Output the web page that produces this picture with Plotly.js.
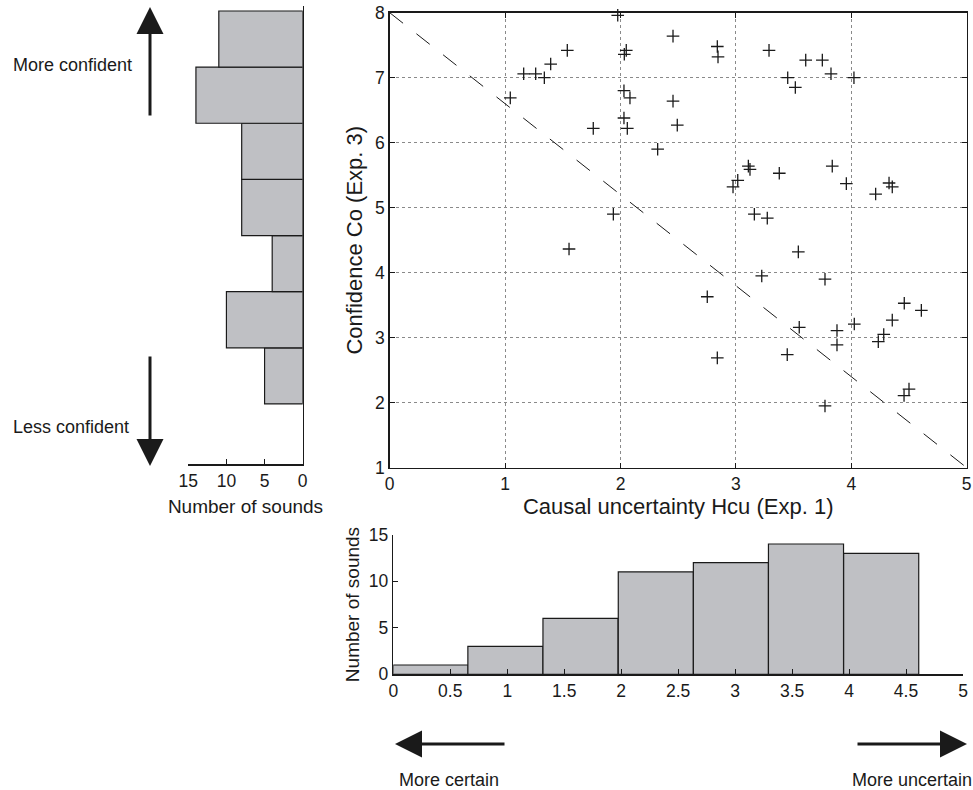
<!DOCTYPE html>
<html>
<head>
<meta charset="utf-8">
<script src="https://cdn.plot.ly/plotly-3.0.1.min.js"></script>
<style>html,body{margin:0;padding:0;background:#fff;}#chart{width:973px;height:790px;}</style>
</head>
<body>
<div id="chart"></div>
<script>
// Scatter: causal uncertainty (Exp. 1) vs confidence (Exp. 3)
const hcuValues = [1.976, 2.455, 1.539, 2.05, 2.033, 1.395, 1.161, 1.265, 1.34, 1.045,
  2.03, 2.082, 2.455, 2.03, 2.059, 1.764, 2.492, 2.322, 1.938, 2.839,
  2.845, 3.287, 3.605, 3.749, 3.824, 3.449, 3.515, 4.023, 3.108, 3.122,
  3.376, 3.016, 2.975, 3.835, 3.957, 4.211, 4.327, 4.355, 3.160, 3.272,
  1.554, 3.541, 3.224, 3.772, 2.752, 4.459, 4.607, 4.355, 4.026, 3.549,
  3.876, 4.281, 4.234, 3.876, 3.445, 2.839, 4.50, 4.457, 3.772];
const confValues = [7.96, 7.64, 7.42, 7.42, 7.36, 7.21, 7.06, 7.06, 7.0, 6.69,
  6.80, 6.69, 6.64, 6.38, 6.22, 6.22, 6.27, 5.90, 4.90, 7.48,
  7.32, 7.42, 7.27, 7.27, 7.06, 7.0, 6.85, 7.0, 5.64, 5.59,
  5.53, 5.42, 5.32, 5.64, 5.37, 5.21, 5.38, 5.32, 4.90, 4.84,
  4.365, 4.32, 3.95, 3.90, 3.63, 3.53, 3.42, 3.27, 3.21, 3.16,
  3.11, 3.05, 2.94, 2.89, 2.74, 2.69, 2.21, 2.11, 1.95];

// Diagonal reference line
const diagX = [0, 5];
const diagY = [8, 1];

// Left histogram: confidence bins (centres) and counts
const confBinCenters = [2.412, 3.276, 4.139, 5.003, 5.867, 6.731, 7.594];
const confBinWidth = 0.8637;
const confCounts = [5, 10, 4, 8, 8, 14, 11];

// Bottom histogram: causal uncertainty bins (centres) and counts
const hcuBinCenters = [0.328, 0.984, 1.643, 2.304, 2.963, 3.622, 4.282];
const hcuBinWidth = 0.659;
const hcuCounts = [1, 3, 6, 11, 12, 14, 13];

// Tick labels
const mainXTicks = [0, 1, 2, 3, 4, 5];
const mainYTicks = [1, 2, 3, 4, 5, 6, 7, 8];
const leftHistTicks = [0, 5, 10, 15];
const bottomXTicks = [0, 0.5, 1, 1.5, 2, 2.5, 3, 3.5, 4, 4.5, 5];
const bottomYTicks = [0, 5, 10, 15];

const FONT = 'Liberation Sans, Arial, Helvetica, sans-serif';
const INK = '#1a1a1a';
const BARFILL = '#bfc0c4';

const traces = [
  {
    type: 'scatter', mode: 'lines', x: diagX, y: diagY,
    line: {color: INK, width: 1, dash: '17px,17px'},
    xaxis: 'x', yaxis: 'y', hoverinfo: 'skip', showlegend: false
  },
  {
    type: 'scatter', mode: 'markers', x: hcuValues, y: confValues,
    marker: {symbol: 'cross-thin-open', size: 9, line: {color: INK, width: 1.3}, color: INK},
    xaxis: 'x', yaxis: 'y', showlegend: false, cliponaxis: false
  },
  {
    type: 'bar', orientation: 'h', x: confCounts, y: confBinCenters, width: confBinWidth,
    marker: {color: BARFILL, line: {color: INK, width: 1.2}},
    xaxis: 'x2', yaxis: 'y2', showlegend: false
  },
  {
    type: 'bar', x: hcuBinCenters, y: hcuCounts, width: hcuBinWidth,
    marker: {color: BARFILL, line: {color: INK, width: 1.2}},
    xaxis: 'x3', yaxis: 'y3', showlegend: false
  }
];

const W = 973, H = 790;
const px = v => v / W;
const py = v => 1 - v / H;

const tickFont = {family: FONT, size: 17.5, color: INK};
const commonAxis = {
  showline: true, linecolor: INK, linewidth: 1.5, ticks: 'inside', ticklen: 5,
  tickcolor: INK, tickwidth: 1, zeroline: false, tickfont: tickFont, fixedrange: true
};

const layout = {
  width: W, height: H,
  margin: {l: 0, r: 0, t: 0, b: 0},
  paper_bgcolor: '#ffffff', plot_bgcolor: 'rgba(0,0,0,0)',
  font: {family: FONT, color: INK},
  showlegend: false,
  bargap: 0,
  xaxis: Object.assign({}, commonAxis, {
    domain: [px(389.7), px(966.7)], range: [0, 5], anchor: 'y',
    tickvals: mainXTicks, mirror: 'allticks',
    showgrid: true, gridcolor: '#8a8a8a', griddash: 'dot', gridwidth: 1,
    title: {text: 'Causal uncertainty Hcu (Exp. 1)', font: {family: FONT, size: 22, color: INK}, standoff: 4}
  }),
  yaxis: Object.assign({}, commonAxis, {
    domain: [py(467.7), py(12.7)], range: [1, 8], anchor: 'x',
    tickvals: mainYTicks, mirror: 'allticks',
    showgrid: true, gridcolor: '#8a8a8a', griddash: 'dot', gridwidth: 1,
    title: {text: 'Confidence Co (Exp. 3)', font: {family: FONT, size: 22, color: INK}, standoff: 6}
  }),
  xaxis2: Object.assign({}, commonAxis, {
    domain: [px(188.3), px(302.7)], range: [15, 0], anchor: 'y2',
    tickvals: leftHistTicks, showgrid: false,
    tickfont: {family: FONT, size: 17.5, color: INK},
    title: {text: 'Number of sounds', font: {family: FONT, size: 19, color: INK}, standoff: 10}
  }),
  yaxis2: Object.assign({}, commonAxis, {
    domain: [py(464.3), py(6)], range: [1.052, 8.103], anchor: 'x2', side: 'right',
    showticklabels: false, ticks: '', showgrid: false
  }),
  xaxis3: Object.assign({}, commonAxis, {
    domain: [px(393.3), px(963)], range: [0, 5], anchor: 'y3',
    tickvals: bottomXTicks, ticktext: bottomXTicks.map(String), showgrid: false
  }),
  yaxis3: Object.assign({}, commonAxis, {
    domain: [py(674.3), py(534.7)], range: [0, 15], anchor: 'x3',
    tickvals: bottomYTicks, showgrid: false,
    title: {text: 'Number of sounds', font: {family: FONT, size: 19, color: INK}, standoff: 4}
  }),
  annotations: [
    {xref: 'paper', yref: 'paper', x: px(150), y: py(7), ax: 0, ay: 110, text: '',
     showarrow: true, arrowhead: 2, arrowsize: 1.8, arrowwidth: 3, arrowcolor: INK},
    {xref: 'paper', yref: 'paper', x: px(150), y: py(466), ax: 0, ay: -111, text: '',
     showarrow: true, arrowhead: 2, arrowsize: 1.8, arrowwidth: 3, arrowcolor: INK},
    {xref: 'paper', yref: 'paper', x: px(395), y: py(744), ax: 111, ay: 0, text: '',
     showarrow: true, arrowhead: 2, arrowsize: 1.8, arrowwidth: 3, arrowcolor: INK},
    {xref: 'paper', yref: 'paper', x: px(967), y: py(744), ax: -111, ay: 0, text: '',
     showarrow: true, arrowhead: 2, arrowsize: 1.8, arrowwidth: 3, arrowcolor: INK},
    {xref: 'paper', yref: 'paper', x: px(72.5), y: py(65), text: 'More confident', showarrow: false,
     font: {family: FONT, size: 18, color: INK}, xanchor: 'center', yanchor: 'middle'},
    {xref: 'paper', yref: 'paper', x: px(70.5), y: py(427), text: 'Less confident', showarrow: false,
     font: {family: FONT, size: 18, color: INK}, xanchor: 'center', yanchor: 'middle'},
    {xref: 'paper', yref: 'paper', x: px(449), y: py(780), text: 'More certain', showarrow: false,
     font: {family: FONT, size: 18, color: INK}, xanchor: 'center', yanchor: 'middle'},
    {xref: 'paper', yref: 'paper', x: px(912), y: py(780), text: 'More uncertain', showarrow: false,
     font: {family: FONT, size: 18, color: INK}, xanchor: 'center', yanchor: 'middle'}
  ]
};

Plotly.newPlot('chart', traces, layout, {staticPlot: true, displayModeBar: false});
</script>
</body>
</html>
